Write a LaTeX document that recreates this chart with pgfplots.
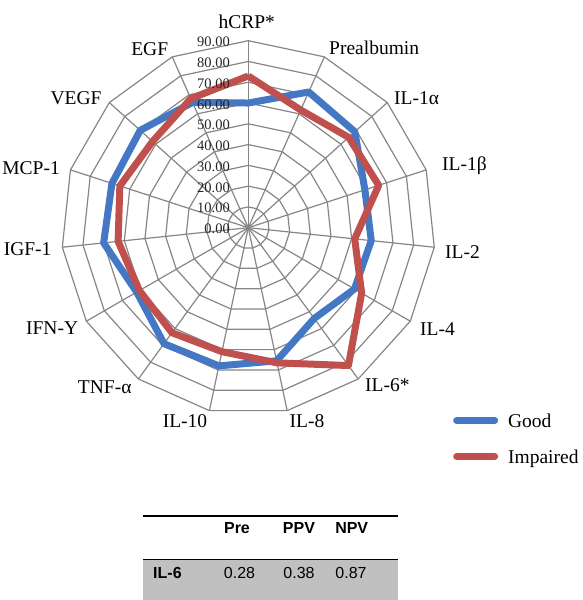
\documentclass[border=0pt]{standalone}
\usepackage{pgfplots}
\pgfplotsset{compat=1.18}
\usepackage{pgfplotstable}
\usepackage{fontspec}
\setmainfont{Liberation Serif}
\newfontfamily\tabfont{Liberation Sans}
\definecolor{goodblue}{RGB}{68,119,196}
\definecolor{impred}{RGB}{192,80,77}
\definecolor{gridgray}{RGB}{134,134,134}
\definecolor{tabgray}{RGB}{192,192,192}

\pgfplotstableread{
angle good impaired
90 60 73
66 71.5 62
42 69 65
18 59 66
-6 59.5 51.5
-30 59 63
-54 54 82
-78 65.5 66.5
-102 68 61
-126 69 62.5
-150 62 60.5
-174 70 63
162 69 65
138 70 62
114 66 68
90 60 73
}\radardata

\begin{document}
\begin{tikzpicture}[x=1pt,y=1pt]
\begin{axis}[at={(0pt,0pt)}, anchor=south west,
  x=2.0778pt, y=2.0778pt, hide axis, clip=false,
  xmin=-119.5, xmax=161.08, ymin=-179.18, ymax=109.59,
  legend style={at={(axis cs:98.5,-89.6)}, anchor=north west, draw=none, fill=none,
    inner sep=0pt, row sep=23pt, font=\fontsize{19.5}{22}\selectfont,
    nodes={inner sep=0pt, text height=13pt, text depth=0pt, anchor=west},
    /tikz/every odd column/.append style={column sep=10pt}},
  legend cell align=left,
  legend image code/.code={\draw[#1, line cap=round] (3.5pt,0pt) -- (41.5pt,0pt);}
]
\pgfplotsinvokeforeach{10,20,...,90}{
  \addplot[gridgray, line width=1.2pt, data cs=polar, forget plot] coordinates {(90,#1) (66,#1) (42,#1) (18,#1) (-6,#1) (-30,#1) (-54,#1) (-78,#1) (-102,#1) (-126,#1) (-150,#1) (-174,#1) (162,#1) (138,#1) (114,#1) (90,#1) (66,#1)};
}
\pgfplotsinvokeforeach{90,66,...,-246}{
  \addplot[gridgray, line width=1.2pt, data cs=polar, forget plot] coordinates {(#1,0) (#1,90)};
}
\addplot[goodblue, line width=7pt, line join=round, data cs=polar] table[x=angle,y=good]{\radardata};
\addlegendentry{Good}
\addplot[impred, line width=7pt, line join=round, data cs=polar] table[x=angle,y=impaired]{\radardata};
\addlegendentry{Impaired}
\end{axis}

% radial tick labels
\foreach \v/\t in {0/0.00,10/10.00,20/20.00,30/30.00,40/40.00,50/50.00,60/60.00,70/70.00,80/80.00,90/90.00}{
  \node[anchor=base east, inner sep=0pt, font=\fontsize{14.5}{16}\selectfont, text=black!85] at (230,{366.3+\v*2.0778}) {\t};
}

% category labels
\tikzset{lab/.style={inner sep=0pt, font=\fontsize{19.5}{22}\selectfont}}
\node[lab, anchor=base] at (246.7,571.7) {hCRP*};
\node[lab, anchor=base west] at (329,545) {Prealbumin};
\node[lab, anchor=base west] at (394,495) {IL-1α};
\node[lab, anchor=base west] at (442,429.5) {IL-1β};
\node[lab, anchor=base west] at (445,341.5) {IL-2};
\node[lab, anchor=base west] at (420,264.5) {IL-4};
\node[lab, anchor=base west] at (365,208.5) {IL-6*};
\node[lab, anchor=base] at (307,172) {IL-8};
\node[lab, anchor=base] at (185,172) {IL-10};
\node[lab, anchor=base east] at (131.7,206) {TNF-α};
\node[lab, anchor=base east] at (78.3,265.5) {IFN-Υ};
\node[lab, anchor=base east] at (51.7,344) {IGF-1};
\node[lab, anchor=base east] at (60,425) {MCP-1};
\node[lab, anchor=base east] at (101.7,495) {VEGF};
\node[lab, anchor=base east] at (168.3,544) {EGF};

% table
\fill[tabgray] (143,0) rectangle (398,40);
\draw[line width=2pt] (143,84) -- (398,84);
\draw[line width=1.8pt] (143,40.5) -- (398,40.5);
\tikzset{tab/.style={inner sep=0pt, font=\tabfont\fontsize{16}{18}\selectfont}}
\node[tab, anchor=base] at (237,66.3) {\bfseries Pre};
\node[tab, anchor=base] at (299,66.3) {\bfseries PPV};
\node[tab, anchor=base] at (351.7,66.3) {\bfseries NPV};
\node[tab, anchor=base west] at (153,21.3) {\bfseries IL-6};
\node[tab, anchor=base] at (239.5,21.3) {0.28};
\node[tab, anchor=base] at (299,21.3) {0.38};
\node[tab, anchor=base] at (351,21.3) {0.87};

\pgfresetboundingbox
\useasboundingbox (0,0) rectangle (583,600);
\end{tikzpicture}
\end{document}
